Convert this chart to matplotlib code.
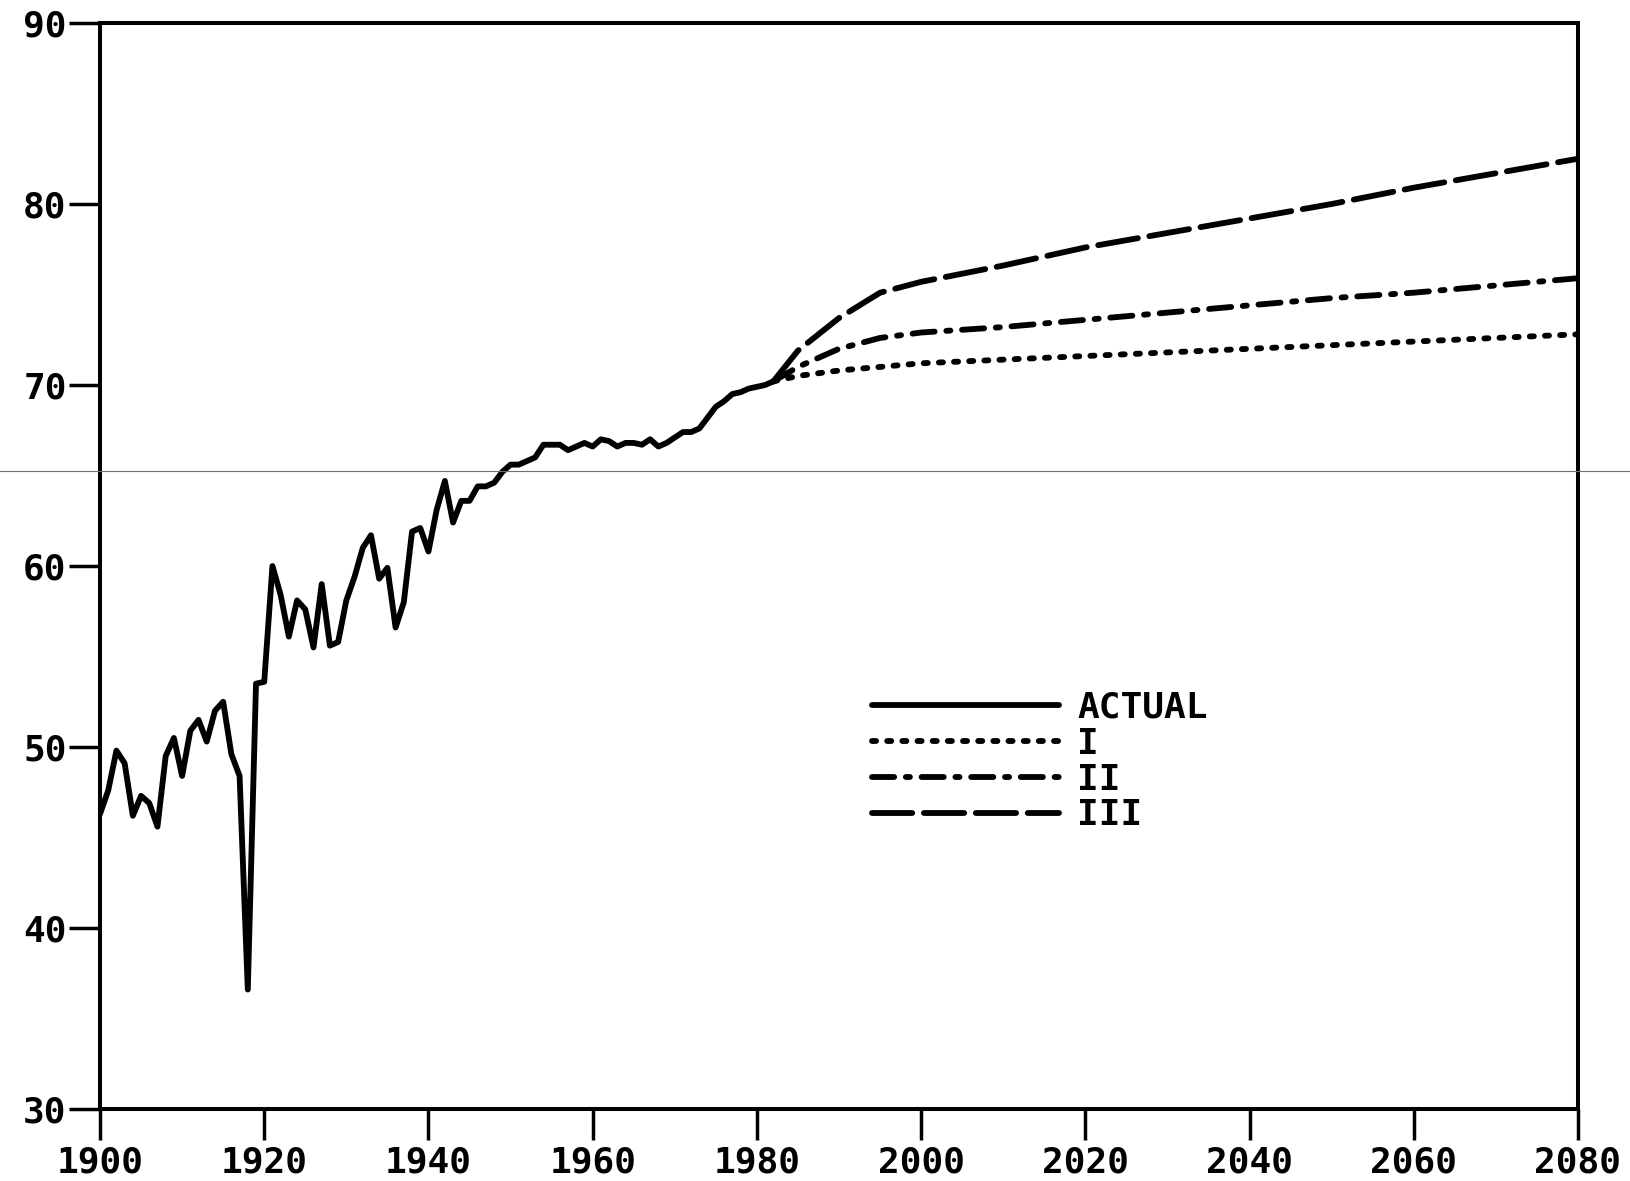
import matplotlib
matplotlib.use("Agg")
import matplotlib.pyplot as plt
from matplotlib.lines import Line2D

# ---------------- data ----------------
actual_years = list(range(1900, 1983))
actual_values = [
    46.3, 47.6, 49.8, 49.1, 46.2, 47.3, 46.9, 45.6, 49.5, 50.5,   # 1900-09
    48.4, 50.9, 51.5, 50.3, 52.0, 52.5, 49.6, 48.4, 36.6, 53.5,   # 1910-19
    53.6, 60.0, 58.4, 56.1, 58.1, 57.6, 55.5, 59.0, 55.6, 55.8,   # 1920-29
    58.1, 59.4, 61.0, 61.7, 59.3, 59.9, 56.6, 58.0, 61.9, 62.1,   # 1930-39
    60.8, 63.1, 64.7, 62.4, 63.6, 63.6, 64.4, 64.4, 64.6, 65.2,   # 1940-49
    65.6, 65.6, 65.8, 66.0, 66.7, 66.7, 66.7, 66.4, 66.6, 66.8,   # 1950-59
    66.6, 67.0, 66.9, 66.6, 66.8, 66.8, 66.7, 67.0, 66.6, 66.8,   # 1960-69
    67.1, 67.4, 67.4, 67.6, 68.2, 68.8, 69.1, 69.5, 69.6, 69.8,   # 1970-79
    69.9, 70.0, 70.2,                                             # 1980-82
]

proj_years = [1982, 1985, 1990, 1995, 2000, 2010, 2020, 2030, 2040, 2050, 2060, 2070, 2080]
alt_I   = [70.2, 70.5, 70.8, 71.0, 71.2, 71.4, 71.6, 71.8, 72.0, 72.2, 72.4, 72.6, 72.8]
alt_II  = [70.2, 71.0, 72.0, 72.6, 72.9, 73.2, 73.6, 74.0, 74.4, 74.8, 75.1, 75.5, 75.9]
alt_III = [70.2, 71.9, 73.7, 75.1, 75.7, 76.6, 77.6, 78.4, 79.2, 80.0, 80.9, 81.7, 82.5]

x_ticks = [1900, 1920, 1940, 1960, 1980, 2000, 2020, 2040, 2060, 2080]
y_ticks = [30, 40, 50, 60, 70, 80, 90]
legend_labels = ["ACTUAL", "I", "II", "III"]

# ---------------- figure ----------------
plt.rcParams['font.family'] = ['DejaVu Sans Mono', 'DejaVu Sans']
plt.rcParams['font.weight'] = 'bold'

fig = plt.figure(figsize=(16.31, 11.81), dpi=100)
ax = fig.add_axes([100/1631, 1 - 1109/1181, 1478/1631, 1086/1181])

LW = 4.2
ax.plot(actual_years, actual_values, color='black', lw=LW,
        solid_joinstyle='round', solid_capstyle='round', label=legend_labels[0])
ax.plot(proj_years, alt_I, color='black', lw=LW, dashes=(0.7, 1.9),
        dash_capstyle='round', label=legend_labels[1])
ax.plot(proj_years, alt_II, color='black', lw=LW, dashes=(3.8, 2.0, 0.7, 2.0),
        dash_capstyle='round', label=legend_labels[2])
ax.plot(proj_years, alt_III, color='black', lw=LW, dashes=(6.9, 2.0),
        dash_capstyle='round', label=legend_labels[3])

ax.set_xlim(1900, 2080)
ax.set_ylim(30, 90)
ax.set_xticks(x_ticks)
ax.set_yticks(y_ticks)
ax.set_xticklabels([str(v) for v in x_ticks])
ax.set_yticklabels([str(v) for v in y_ticks])

for s in ax.spines.values():
    s.set_linewidth(2.9)
ax.tick_params(axis='both', direction='out', length=22, width=2.5,
               labelsize=26, pad=2)
ax.tick_params(axis='x', pad=4)

leg = ax.legend(loc='upper left', bbox_to_anchor=(0.522, 0.385),
                frameon=False, fontsize=26, handlelength=5.2,
                handletextpad=0.5, labelspacing=0.05, borderpad=0,
                borderaxespad=0)
for t in leg.get_texts():
    t.set_fontweight('bold')

# faint horizontal scan line across the page
fig.add_artist(Line2D([0, 1], [1 - 471/1181, 1 - 471/1181],
                      transform=fig.transFigure, color='#707070', lw=0.8))

fig.savefig("out.png", dpi=100)
